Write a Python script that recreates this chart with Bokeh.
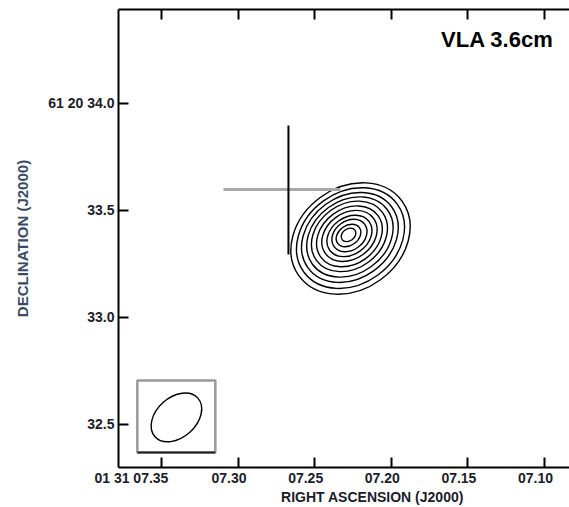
from bokeh.plotting import figure
from bokeh.models import Range1d, FixedTicker, LinearAxis, Label
from bokeh.embed import file_html
from bokeh.resources import INLINE

# ---------------- data ----------------
# axis ticks (RA in seconds of time, Dec in arcsec of 61 20 xx)
ra_ticks = [7.35, 7.30, 7.25, 7.20, 7.15, 7.10]
ra_labels = ["01 31 07.35", "07.30", "07.25", "07.20", "07.15", "07.10"]
dec_ticks = [34.0, 33.5, 33.0, 32.5]
dec_labels = ["61 20 34.0", "33.5", "33.0", "32.5"]

# contour ellipses (outer -> inner), centres in RA s / Dec arcsec, axes in arcsec
cont_ra = [7.2266, 7.2266, 7.2270, 7.2270, 7.2273, 7.2273, 7.2273, 7.2273, 7.2273, 7.2279, 7.2279]
cont_dec = [33.369, 33.371, 33.374, 33.376, 33.379, 33.379, 33.381, 33.381, 33.383, 33.383, 33.386]
cont_major = [0.598, 0.542, 0.486, 0.435, 0.383, 0.332, 0.280, 0.229, 0.178, 0.126, 0.075]
cont_minor = [0.477, 0.430, 0.383, 0.341, 0.299, 0.257, 0.215, 0.173, 0.136, 0.093, 0.056]
cont_pa = [36, 36, 36, 36, 36, 36, 36, 36, 36, 36, 36]

# position cross (RA s, Dec arcsec)
cross_v_ra = [7.2671]
cross_v_dec = [33.897, 33.294]
cross_h_ra = [7.3095, 7.2332]
cross_h_dec = [33.598]

# restoring beam
beam_ra = [7.3402]
beam_dec = [32.533]
beam_major = [0.271]
beam_minor = [0.187]
beam_pa = [42]

ARCSEC_PER_SEC = 7.195  # 15 * cos(dec)

FONT = "Liberation Sans"
TXT = "#1c1c2a"

X0, X1 = 7.378, 7.0837
FRAME_W = 451
PX_PER_SEC = FRAME_W / (X0 - X1)
# labels are set flush-right a few pixels past their tick (AIPS style)
label_shift_px = [-30, -9, -9, -9, -9, -9]
ra_label_pos = [round(t - s / PX_PER_SEC, 5) for t, s in zip(ra_ticks, label_shift_px)]
ra_title_pos = round(X0 - (372 - 118) / PX_PER_SEC, 5)

Y1 = 34.439
Y0 = 32.299

p = figure(width=569, height=507,
           x_range=Range1d(X0, X1), y_range=Range1d(Y0, Y1),
           output_backend="svg", toolbar_location=None,
           min_border_left=118, min_border_top=9, min_border_right=0, min_border_bottom=37,
           x_axis_location=None, y_axis_location=None)
p.grid.visible = False
p.outline_line_color = None
p.background_fill_color = "white"
p.border_fill_color = "white"


def style_axis(ax):
    ax.major_tick_in = 10
    ax.major_tick_out = 0
    ax.minor_tick_line_color = None
    ax.axis_line_width = 2
    ax.axis_line_color = "black"
    ax.major_tick_line_width = 2
    ax.major_tick_line_color = "black"
    ax.major_label_text_font = FONT
    ax.major_label_text_font_style = "bold"
    ax.major_label_text_font_size = "14px"
    ax.major_label_text_color = TXT
    ax.axis_label_standoff = 0


def label_only(ax):
    ax.axis_line_color = None
    ax.major_tick_line_color = None
    ax.major_tick_in = 0


# bottom: ticks + line (no labels)
xb = LinearAxis(ticker=FixedTicker(ticks=ra_ticks))
style_axis(xb)
xb.major_label_text_font_size = "1px"
xb.major_label_text_color = None
xb.major_label_standoff = 0
p.add_layout(xb, "below")

# bottom: tick labels
xl = LinearAxis(ticker=FixedTicker(ticks=ra_label_pos),
                major_label_overrides={t: l for t, l in zip(ra_label_pos, ra_labels)})
style_axis(xl)
label_only(xl)
xl.major_label_standoff = 2
p.add_layout(xl, "below")

# bottom: axis title row
xt = LinearAxis(ticker=FixedTicker(ticks=[ra_title_pos]),
                major_label_overrides={ra_title_pos: "RIGHT ASCENSION (J2000)"})
style_axis(xt)
label_only(xt)
xt.major_label_standoff = 0
xt.major_label_text_font_size = "14px"
p.add_layout(xt, "below")

# top: ticks + line
xa = LinearAxis(ticker=FixedTicker(ticks=ra_ticks))
style_axis(xa)
xa.major_label_text_font_size = "1px"
xa.major_label_text_color = None
xa.major_label_standoff = 0
p.add_layout(xa, "above")

yl = LinearAxis(ticker=FixedTicker(ticks=dec_ticks),
                major_label_overrides={t: l for t, l in zip(dec_ticks, dec_labels)},
                axis_label="DECLINATION (J2000)")
style_axis(yl)
yl.major_label_standoff = 4
yl.axis_label_standoff = 14
yl.axis_label_text_font = FONT
yl.axis_label_text_font_style = "bold"
yl.axis_label_text_font_size = "15px"
yl.axis_label_text_color = "#3a4a66"
p.add_layout(yl, "left")

# contours
p.ellipse(x=cont_ra, y=cont_dec,
          width=[m / ARCSEC_PER_SEC for m in cont_major], height=cont_minor,
          angle=cont_pa, angle_units="deg",
          fill_color=None, line_color="black", line_width=1.4)

# cross
p.segment(x0=[cross_h_ra[0]], y0=cross_h_dec, x1=[cross_h_ra[1]], y1=cross_h_dec,
          line_color="#a8a8a8", line_width=3)
p.segment(x0=cross_v_ra, y0=[cross_v_dec[0]], x1=cross_v_ra, y1=[cross_v_dec[1]],
          line_color="black", line_width=2)

# beam box and beam
p.quad(left=[7.3657], right=[7.3148], top=[32.706], bottom=[32.369],
       fill_color=None, line_color="#9a9a9a", line_width=2.5)
p.segment(x0=[7.3657], y0=[32.369], x1=[7.3148], y1=[32.369], line_color="#222222", line_width=2)
p.ellipse(x=beam_ra, y=beam_dec,
          width=[m / ARCSEC_PER_SEC for m in beam_major], height=beam_minor,
          angle=beam_pa, angle_units="deg",
          fill_color=None, line_color="black", line_width=1.4)

p.add_layout(Label(x=7.0941, y=34.30, text="VLA 3.6cm", text_align="right",
                   text_baseline="middle", text_font=FONT, text_font_style="bold",
                   text_font_size="22px", text_color="black"))

open("out.html", "w").write(file_html(p, INLINE))
